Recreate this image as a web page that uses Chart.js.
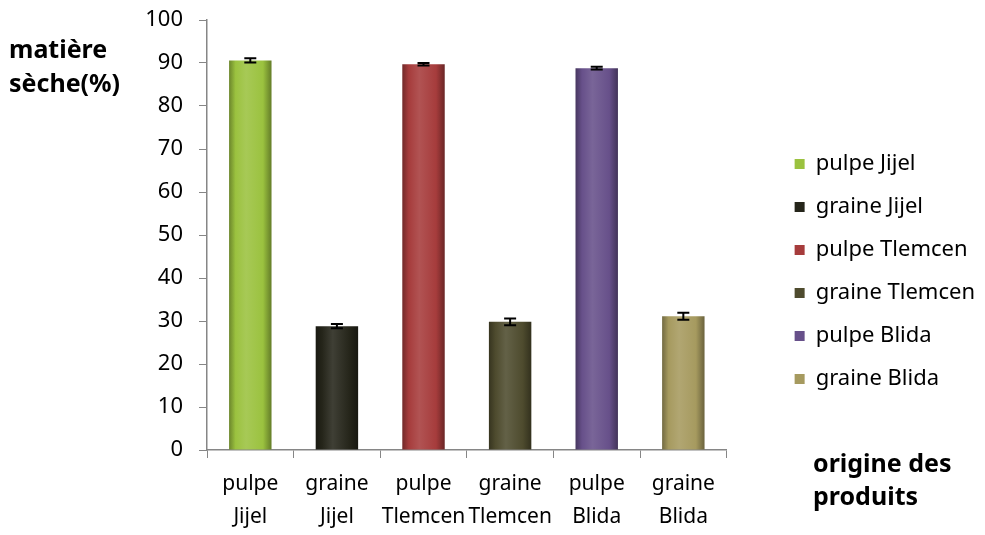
<!DOCTYPE html>
<html>
<head>
<meta charset="utf-8">
<script src="https://cdn.jsdelivr.net/npm/chart.js@4.4.0/dist/chart.umd.min.js"></script>
<style>
  html, body { margin: 0; padding: 0; background: #fff; }
  #wrap { width: 985px; height: 535px; }
</style>
</head>
<body>
<div id="wrap"><canvas id="dm-chart"></canvas></div>
<script>
// catégories (axe x)
const categories = [
  ['pulpe', 'Jijel'],
  ['graine', 'Jijel'],
  ['pulpe', 'Tlemcen'],
  ['graine', 'Tlemcen'],
  ['pulpe', 'Blida'],
  ['graine', 'Blida'],
];
// noms des séries (légende)
const seriesNames = [
  'pulpe Jijel',
  'graine Jijel',
  'pulpe Tlemcen',
  'graine Tlemcen',
  'pulpe Blida',
  'graine Blida',
];
// matière sèche (%)
const dryMatter = [90.6, 28.8, 89.7, 29.8, 88.8, 31.1];
// écart-type
const errors = [0.5, 0.5, 0.3, 0.8, 0.3, 0.8];
// graduations de l'axe y
const yTicks = [0, 10, 20, 30, 40, 50, 60, 70, 80, 90, 100];

const colors = ['#9bc23f', '#25251a', '#a63c3c', '#4e4b2e', '#67508a', '#a69a5f'];
const FONT = 'Noto Sans';

function shade(hex, amt) {
  const n = parseInt(hex.slice(1), 16);
  const f = (c) => Math.max(0, Math.min(255, Math.round(c + (amt > 0 ? (255 - c) * amt : c * amt))));
  const r = f(n >> 16), g = f((n >> 8) & 255), b = f(n & 255);
  return 'rgb(' + r + ',' + g + ',' + b + ')';
}

// dégradé horizontal façon Excel
function barFill(i) {
  return (ctx) => {
    const chart = ctx.chart;
    if (!chart.chartArea || ctx.type !== 'data') return colors[i];
    const x = chart.scales.x.getPixelForValue(ctx.dataIndex);
    const half = 21;
    const g = chart.ctx.createLinearGradient(x - half, 0, x + half, 0);
    g.addColorStop(0, shade(colors[i], -0.3));
    g.addColorStop(0.15, colors[i]);
    g.addColorStop(0.4, shade(colors[i], 0.12));
    g.addColorStop(0.8, colors[i]);
    g.addColorStop(1, shade(colors[i], -0.35));
    return g;
  };
}

const datasets = seriesNames.map((name, i) => ({
  label: name,
  data: dryMatter.map((v, j) => (j === i ? v : null)),
  backgroundColor: barFill(i),
  borderWidth: 0,
  skipNull: true,
  categoryPercentage: 0.98,
  barPercentage: 0.5,
}));

// barres d'erreur
const errorBars = {
  id: 'errorBars',
  afterDatasetsDraw(chart) {
    const c = chart.ctx;
    const y = chart.scales.y;
    c.save();
    c.strokeStyle = '#000';
    c.lineWidth = 2;
    dryMatter.forEach((v, i) => {
      const bar = chart.getDatasetMeta(i).data[i];
      const top = y.getPixelForValue(v + errors[i]);
      const bot = y.getPixelForValue(v - errors[i]);
      c.beginPath();
      c.moveTo(bar.x, top); c.lineTo(bar.x, bot);
      c.moveTo(bar.x - 6, top); c.lineTo(bar.x + 6, top);
      c.moveTo(bar.x - 6, bot); c.lineTo(bar.x + 6, bot);
      c.stroke();
    });
    c.restore();
  },
};

// titres des axes
const axisTitles = {
  id: 'axisTitles',
  afterDraw(chart) {
    const c = chart.ctx;
    c.save();
    c.fillStyle = '#000';
    c.font = 'bold 25px "' + FONT + '"';
    c.textBaseline = 'alphabetic';
    c.fillText('matière', 9, 58);
    c.fillText('sèche(%)', 9, 92);
    c.fillText('origine des', 813, 472);
    c.fillText('produits', 813, 505);
    c.restore();
  },
};

new Chart(document.getElementById('dm-chart'), {
  type: 'bar',
  data: { labels: categories, datasets: datasets },
  options: {
    responsive: true,
    maintainAspectRatio: false,
    animation: false,
    layout: { padding: { top: 8, right: 0, left: 0, bottom: 0 } },
    plugins: {
      tooltip: { enabled: false },
      legend: {
        position: 'right',
        maxWidth: 260,
        labels: {
          color: '#000',
          font: { family: FONT, size: 22 },
          boxWidth: 10,
          boxHeight: 10,
          padding: 21,
          generateLabels(chart) {
            const items = Chart.defaults.plugins.legend.labels.generateLabels(chart);
            items.forEach((it, i) => { it.fillStyle = colors[i]; it.strokeStyle = colors[i]; it.lineWidth = 0; });
            return items;
          },
        },
      },
    },
    scales: {
      x: {
        grid: { drawOnChartArea: false, offset: true, color: '#868686', tickLength: 8 },
        border: { color: '#868686', width: 1.5 },
        ticks: { color: '#000', font: { family: FONT, size: 21, lineHeight: 1.55 }, padding: 10, maxRotation: 0, autoSkip: false },
        afterFit(scale) { scale.height = 85; },
      },
      y: {
        min: 0,
        max: 100,
        afterBuildTicks(scale) { scale.ticks = yTicks.map((v) => ({ value: v })); },
        grid: { drawOnChartArea: false, color: '#868686', tickLength: 8 },
        border: { color: '#868686', width: 1.5 },
        ticks: { color: '#000', font: { family: FONT, size: 22 }, padding: 16 },
        afterFit(scale) { scale.width = 207; scale.paddingTop = 20; },
      },
      // espace vide entre le graphique et la légende
      gap: {
        position: 'right',
        type: 'linear',
        display: true,
        grid: { display: false },
        border: { display: false },
        ticks: { display: false },
        afterFit(scale) { scale.width = 47; scale.paddingTop = 0; },
      },
    },
  },
  plugins: [errorBars, axisTitles],
});
</script>
</body>
</html>
